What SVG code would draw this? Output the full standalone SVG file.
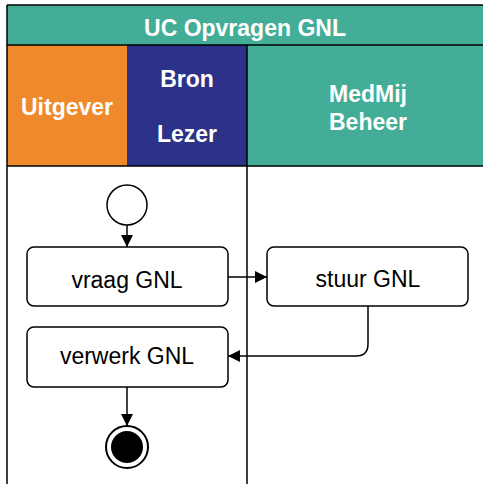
<svg xmlns="http://www.w3.org/2000/svg" width="483" height="484" viewBox="0 0 483 484">
<style>
.hdr{font-family:"Liberation Sans",Arial,sans-serif;font-weight:bold;font-size:23px;fill:#fff;text-anchor:middle}
.lbl{font-family:"Liberation Sans",Arial,sans-serif;font-size:23px;fill:#000;text-anchor:middle}
.box{fill:#fff;stroke:#000;stroke-width:1.5}
.edge{fill:none;stroke:#000;stroke-width:1.5}
</style>
<defs>
<marker id="arr" viewBox="0 0 12 12" refX="12" refY="6" markerWidth="12" markerHeight="12" markerUnits="userSpaceOnUse" orient="auto">
<path d="M0,0 L12,6 L0,12 Z" fill="#000"/>
</marker>
</defs>
<rect width="483" height="484" fill="#fff"/>
<g id="pool">
<rect x="7" y="5" width="480" height="40" fill="#44AD97"/>
<rect x="7" y="45" width="120" height="121" fill="#EF8A2C"/>
<rect x="127" y="45" width="120" height="121" fill="#2B3288"/>
<rect x="247" y="45" width="240" height="121" fill="#44AD97"/>
<path d="M7,5 H487 M7,45 H487 M7,166 H487 M7,5 V484 M247,45 V484" fill="none" stroke="#000" stroke-width="1.5"/>
<text class="hdr" x="245" y="36">UC Opvragen GNL</text>
<text class="hdr" x="67" y="115">Uitgever</text>
<text class="hdr" x="187" y="87">Bron</text>
<text class="hdr" x="187" y="142">Lezer</text>
<text class="hdr" x="368" y="102">MedMij</text>
<text class="hdr" x="368" y="130">Beheer</text>
</g>
<g id="start"><circle cx="127" cy="205" r="20" class="box"/></g>
<g id="vraag"><rect x="27" y="247" width="201" height="59" rx="7" class="box"/><text class="lbl" x="127" y="288">vraag GNL</text></g>
<g id="stuur"><rect x="267" y="247" width="201" height="59" rx="7" class="box"/><text class="lbl" x="368" y="287">stuur GNL</text></g>
<g id="verwerk"><rect x="27" y="327" width="201" height="60" rx="7" class="box"/><text class="lbl" x="127" y="364">verwerk GNL</text></g>
<g id="end"><circle cx="127" cy="447" r="21" fill="#fff" stroke="#000" stroke-width="2"/><circle cx="127" cy="447" r="16" fill="#000"/></g>
<g id="connectors">
<path class="edge" d="M127,225 V247" marker-end="url(#arr)"/>
<path class="edge" d="M228,277 H267" marker-end="url(#arr)"/>
<path class="edge" d="M368,306 V344 Q368,356 356,356 H228" marker-end="url(#arr)"/>
<path class="edge" d="M127,387 V426" marker-end="url(#arr)"/>
</g>
</svg>
